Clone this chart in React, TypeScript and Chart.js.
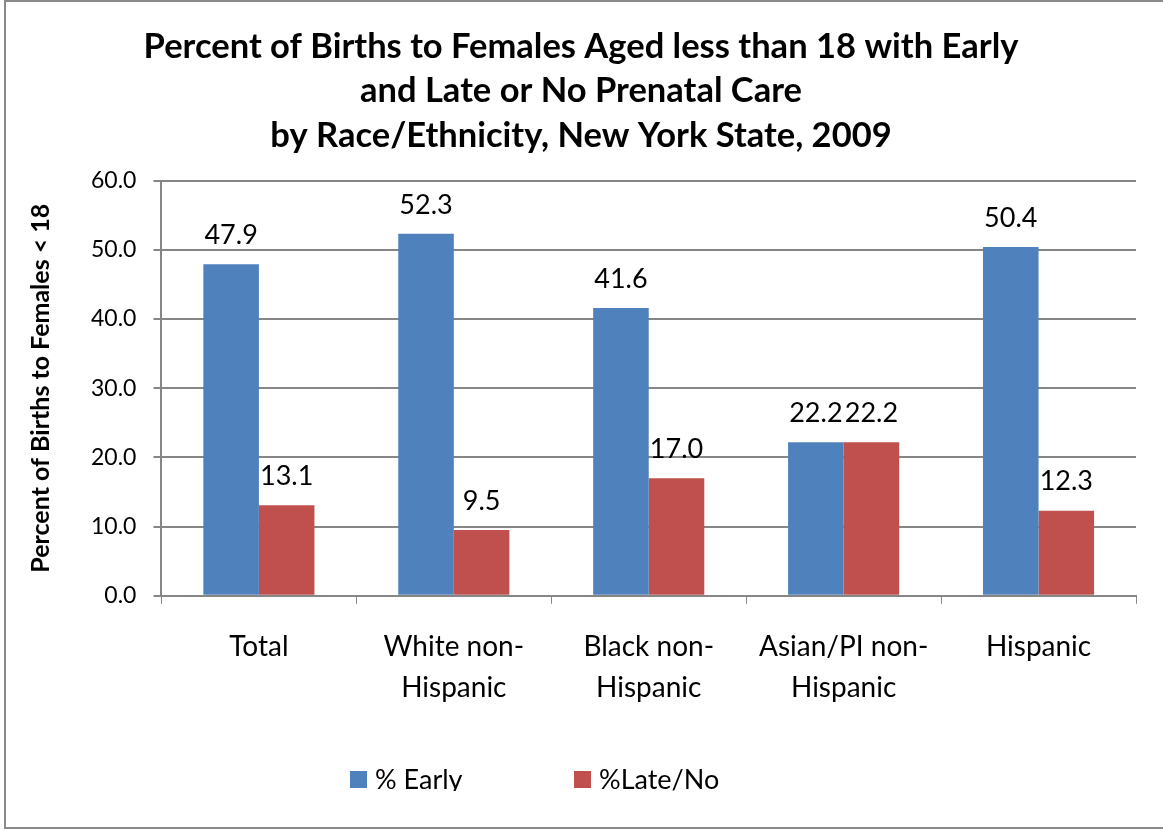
import React, { useEffect, useRef } from "react";
import { Chart, registerables } from "chart.js";

Chart.register(...registerables);

const categories: string[][] = [
  ["Total"],
  ["White non-", "Hispanic"],
  ["Black non-", "Hispanic"],
  ["Asian/PI non-", "Hispanic"],
  ["Hispanic"],
];
const earlyValues = [47.9, 52.3, 41.6, 22.2, 50.4];
const lateValues = [13.1, 9.5, 17.0, 22.2, 12.3];
const seriesNames = ["% Early", "%Late/No"];
const seriesColors = ["#4F81BD", "#C0504D"];
const titleLines = [
  "Percent of Births to Females Aged less than 18 with Early",
  "and Late or No Prenatal Care",
  "by Race/Ethnicity, New York State, 2009",
];
const yAxisTitle = "Percent of Births to Females < 18";
const yMin = 0;
const yMax = 60;
const yStep = 10;

const FONT = "Lato, 'Open Sans', sans-serif";
const GRID = "#868686";

const framePlugin = {
  id: "frame",
  beforeDraw(chart: any) {
    const ctx = chart.ctx;
    ctx.save();
    ctx.fillStyle = "#ffffff";
    ctx.fillRect(0, 0, chart.width, chart.height);
    ctx.strokeStyle = "#8a8a8a";
    ctx.lineWidth = 2;
    ctx.strokeRect(5, 1, chart.width + 10, chart.height - 3);
    ctx.restore();
  },
};

const valueLabelPlugin = {
  id: "valueLabels",
  afterDatasetsDraw(chart: any) {
    const ctx = chart.ctx;
    ctx.save();
    ctx.font = `27px ${FONT}`;
    ctx.fillStyle = "#000000";
    ctx.textAlign = "center";
    ctx.textBaseline = "middle";
    chart.data.datasets.forEach((ds: any, di: number) => {
      const meta = chart.getDatasetMeta(di);
      meta.data.forEach((bar: any, i: number) => {
        const v = ds.data[i] as number;
        ctx.fillText(v.toFixed(1), bar.x, bar.y - 29);
      });
    });
    ctx.restore();
  },
};

const legendPlugin = {
  id: "customLegend",
  afterDraw(chart: any) {
    const ctx = chart.ctx;
    ctx.save();
    ctx.beginPath();
    ctx.rect(0, 0, chart.width, 791);
    ctx.clip();
    ctx.font = `27px ${FONT}`;
    ctx.textBaseline = "middle";
    ctx.textAlign = "left";
    const starts = [350, 574];
    chart.data.datasets.forEach((ds: any, i: number) => {
      const x = starts[i];
      ctx.fillStyle = ds.backgroundColor;
      ctx.fillRect(x, 771, 17, 17);
      ctx.fillStyle = "#000000";
      ctx.fillText(ds.label, x + 25, 780);
    });
    ctx.restore();
  },
};

export default function App() {
  const ref = useRef<HTMLCanvasElement | null>(null);

  useEffect(() => {
    document.body.style.margin = "0";
    if (!ref.current) return;
    const chart = new Chart(ref.current, {
      type: "bar",
      data: {
        labels: categories,
        datasets: [
          { label: seriesNames[0], data: earlyValues, backgroundColor: seriesColors[0] },
          { label: seriesNames[1], data: lateValues, backgroundColor: seriesColors[1] },
        ],
      },
      options: {
        animation: false,
        responsive: false,
        maintainAspectRatio: false,
        layout: { padding: { top: 14, left: 26, right: 27, bottom: 99 } },
        datasets: { bar: { categoryPercentage: 0.57, barPercentage: 1.0 } },
        plugins: {
          legend: { display: false },
          tooltip: { enabled: false },
          title: {
            display: true,
            text: titleLines,
            color: "#000000",
            font: { family: FONT, size: 34.5, weight: "bold", lineHeight: 1.3 },
            padding: { top: 10, bottom: 22 },
          },
        },
        scales: {
          x: {
            grid: {
              display: true,
              drawOnChartArea: false,
              drawTicks: true,
              tickLength: 8,
              color: GRID,
              offset: true,
            },
            border: { display: true, color: GRID, width: 2 },
            ticks: {
              color: "#000000",
              font: { family: FONT, size: 28, lineHeight: 1.45 },
              padding: 23,
              maxRotation: 0,
              autoSkip: false,
            },
          },
          y: {
            min: yMin,
            max: yMax,
            grid: { color: GRID, lineWidth: 2, tickLength: 8 },
            border: { display: true, color: GRID, width: 2 },
            ticks: {
              stepSize: yStep,
              color: "#000000",
              font: { family: FONT, size: 23 },
              padding: 17,
              callback: (v: any) => Number(v).toFixed(1),
            },
            title: {
              display: true,
              text: yAxisTitle,
              color: "#000000",
              font: { family: FONT, size: 25, weight: "bold" },
              padding: { top: 0, bottom: 18 },
            },
          },
        },
      },
      plugins: [framePlugin, valueLabelPlugin, legendPlugin],
    });
    return () => chart.destroy();
  }, []);

  return (
    <div style={{ width: 1163, height: 830 }}>
      <canvas ref={ref} width={1163} height={830} style={{ display: "block" }} />
    </div>
  );
}
